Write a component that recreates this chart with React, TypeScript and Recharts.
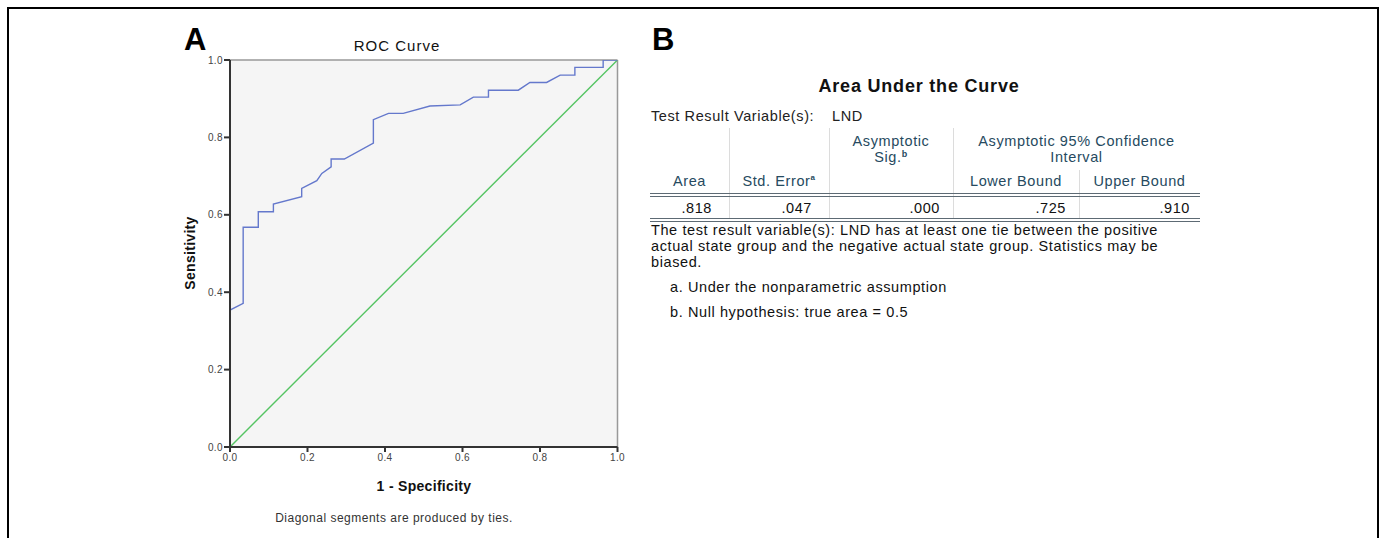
import React from 'react';
import { LineChart, Line, XAxis, YAxis, CartesianGrid, ReferenceLine } from 'recharts';

// ROC curve (1 - specificity, sensitivity)
const rocFpr = [0, 0, 0.034, 0.034, 0.073, 0.073, 0.112, 0.112, 0.185, 0.185, 0.224, 0.237, 0.261, 0.261, 0.295, 0.37, 0.37, 0.409, 0.447, 0.516, 0.594, 0.628, 0.667, 0.667, 0.744, 0.774, 0.817, 0.852, 0.89, 0.89, 0.963, 0.963, 1.0];
const rocTpr = [0, 0.354, 0.371, 0.568, 0.568, 0.608, 0.608, 0.628, 0.647, 0.668, 0.688, 0.707, 0.724, 0.744, 0.744, 0.785, 0.846, 0.862, 0.862, 0.881, 0.884, 0.904, 0.904, 0.922, 0.922, 0.942, 0.942, 0.961, 0.961, 0.981, 0.981, 1.0, 1.0];
const refFpr = [0, 1];
const refTpr = [0, 1];
const axisTicks = [0, 0.2, 0.4, 0.6, 0.8, 1.0];

// AUC table
const tableValues = ['.818', '.047', '.000', '.725', '.910'];
const footnoteLines = [
  'The test result variable(s): LND has at least one tie between the positive',
  'actual state group and the negative actual state group. Statistics may be',
  'biased.',
];

const rocData = rocFpr.map((x, i) => ({ fpr: x, roc: rocTpr[i] }));
const refData = refFpr.map((x, i) => ({ fpr: x, ref: refTpr[i] }));

const FONT = '"Liberation Sans", Arial, sans-serif';
const HEAD = '#264a60';
const TXT: React.CSSProperties = { fontSize: 14.5, letterSpacing: 0.6 };

const abs = (left: number, top: number, extra: React.CSSProperties = {}): React.CSSProperties => ({
  position: 'absolute', left, top, whiteSpace: 'nowrap', ...extra,
});

function RocChart() {
  return (
    <div style={abs(170, 20)}>
      <LineChart width={470} height={470} margin={{ top: 40, right: 22.5, left: 30, bottom: 13 }}>
        <CartesianGrid fill="#f5f5f5" horizontal={false} vertical={false} />
        <XAxis
          dataKey="fpr"
          type="number"
          domain={[0, 1]}
          ticks={axisTicks}
          tickFormatter={(v: number) => v.toFixed(1)}
          height={30}
          stroke="#333"
          strokeWidth={2}
          tickSize={5}
          tickMargin={2}
          tick={{ fontSize: 10, fill: '#444', fontFamily: FONT, letterSpacing: 0.4 }}
          allowDataOverflow
        />
        <YAxis
          type="number"
          domain={[0, 1]}
          ticks={axisTicks}
          tickFormatter={(v: number) => v.toFixed(1)}
          width={30}
          stroke="#333"
          strokeWidth={2}
          tickSize={6}
          tickMargin={1}
          tick={{ fontSize: 10, fill: '#444', fontFamily: FONT, letterSpacing: 0.4 }}
          allowDataOverflow
        />
        <ReferenceLine y={1} stroke="#999" strokeWidth={1.5} />
        <ReferenceLine x={1} stroke="#999" strokeWidth={1.5} />
        <Line data={refData} dataKey="ref" type="linear" stroke="#55c463" strokeWidth={1.4} dot={false} isAnimationActive={false} />
        <Line data={rocData} dataKey="roc" type="linear" stroke="#6478cc" strokeWidth={1.4} dot={false} isAnimationActive={false} />
      </LineChart>
    </div>
  );
}

function AucTable() {
  const cols = [650, 729, 829, 953, 1079, 1200];
  const sep = (x: number, top: number, bottom: number) => (
    <div key={`s${x}-${top}`} style={abs(x, top, { width: 1, height: bottom - top, background: '#dcdcdc' })} />
  );
  const valRight = [712, 812, 940, 1066, 1190];
  return (
    <>
      <div style={abs(799, 76, { width: 240, textAlign: 'center', fontSize: 18, letterSpacing: 0.8, fontWeight: 'bold', color: '#111' })}>
        Area Under the Curve
      </div>
      <div style={abs(651, 108, { ...TXT, color: '#222' })}>Test Result Variable(s):</div>
      <div style={abs(832, 108, { ...TXT, color: '#222' })}>LND</div>

      {sep(cols[1], 128, 219)}
      {sep(cols[2], 128, 219)}
      {sep(cols[3], 128, 219)}
      {sep(cols[4], 170, 219)}

      <div style={abs(cols[2], 133, { width: cols[3] - cols[2], textAlign: 'center', ...TXT, color: HEAD, lineHeight: '16px' })}>
        Asymptotic<br />Sig.<sup style={{ fontSize: 9, verticalAlign: 'top', lineHeight: '10px', fontWeight: 'bold' }}>b</sup>
      </div>
      <div style={abs(cols[3], 133, { width: cols[5] - cols[3], textAlign: 'center', ...TXT, color: HEAD, lineHeight: '16px' })}>
        Asymptotic 95% Confidence<br />Interval
      </div>
      <div style={abs(cols[0], 173, { width: cols[1] - cols[0], textAlign: 'center', ...TXT, color: HEAD })}>Area</div>
      <div style={abs(cols[1], 173, { width: cols[2] - cols[1], textAlign: 'center', ...TXT, color: HEAD })}>
        Std. Error<sup style={{ fontSize: 8, verticalAlign: 'top', lineHeight: '10px', fontWeight: 'bold' }}>a</sup>
      </div>
      <div style={abs(cols[3], 173, { width: cols[4] - cols[3], textAlign: 'center', ...TXT, color: HEAD })}>Lower Bound</div>
      <div style={abs(cols[4], 173, { width: cols[5] - cols[4], textAlign: 'center', ...TXT, color: HEAD })}>Upper Bound</div>

      <div style={abs(cols[0], 193, { width: cols[5] - cols[0], height: 0, borderTop: '4px double #5d6a74' })} />
      {tableValues.map((v, i) => (
        <div key={v + i} style={abs(valRight[i] - 60, 200, { width: 60, textAlign: 'right', ...TXT, color: '#111' })}>{v}</div>
      ))}
      <div style={abs(cols[0], 218, { width: cols[5] - cols[0], height: 0, borderTop: '4px double #5d6a74' })} />

      {footnoteLines.map((t, i) => (
        <div key={t} style={abs(651, 222 + i * 16, { ...TXT, color: '#111' })}>{t}</div>
      ))}
      <div style={abs(670, 279, { ...TXT, color: '#111' })}>a. Under the nonparametric assumption</div>
      <div style={abs(670, 304, { ...TXT, color: '#111' })}>b. Null hypothesis: true area = 0.5</div>
    </>
  );
}

export default function App() {
  return (
    <div style={{ position: 'absolute', left: 0, top: 0, width: 1383, height: 538, background: '#fff', fontFamily: FONT, overflow: 'hidden' }}>
      <div style={abs(7, 7, { width: 1372, height: 540, boxSizing: 'border-box', borderTop: '2px solid #000', borderLeft: '2px solid #000', borderRight: '2px solid #000' })} />

      <div style={abs(184, 22, { fontSize: 31, fontWeight: 'bold', color: '#000' })}>A</div>
      <div style={abs(652, 22, { fontSize: 31, fontWeight: 'bold', color: '#000' })}>B</div>

      <div style={abs(297, 37, { width: 200, textAlign: 'center', fontSize: 15, letterSpacing: 1, color: '#111' })}>ROC Curve</div>
      <RocChart />
      <div style={abs(190, 253, { transform: 'translate(-50%, -50%) rotate(-90deg)', fontSize: 14, letterSpacing: 0.3, fontWeight: 'bold', color: '#111' })}>Sensitivity</div>
      <div style={abs(424, 486, { transform: 'translate(-50%, -50%)', fontSize: 14, letterSpacing: 0.3, fontWeight: 'bold', color: '#111' })}>1 - Specificity</div>
      <div style={abs(394, 518, { transform: 'translate(-50%, -50%)', fontSize: 12, letterSpacing: 0.5, color: '#333' })}>Diagonal segments are produced by ties.</div>

      <AucTable />
    </div>
  );
}
